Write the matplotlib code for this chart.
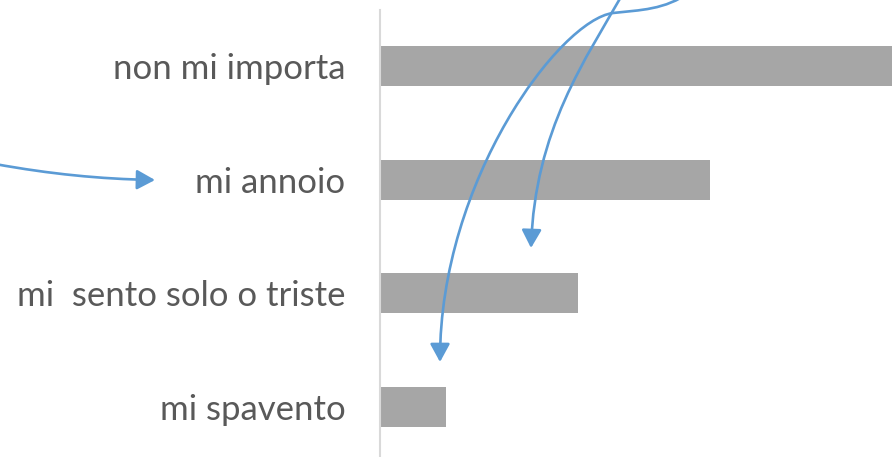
import matplotlib.pyplot as plt
from matplotlib.patches import FancyArrowPatch
from matplotlib.path import Path
from matplotlib.transforms import Affine2D

# categories top to bottom
labels = ["non mi importa", "mi annoio", "mi  sento solo o triste", "mi spavento"]
values = [8, 5, 3, 1]

W, H = 892, 457
fig = plt.figure(figsize=(W / 100, H / 100), dpi=100)
ax = fig.add_axes([380 / W, (H - 463.5) / H, 1 - 380 / W, 454 / H])

pos = list(range(len(labels)))[::-1]
ax.barh(pos, values, height=0.35, color="#A6A6A6")
ax.set_yticks(pos)
ax.set_yticklabels(labels, fontsize=25, color="#595959", family=["Lato", "DejaVu Sans"])
ax.set_ylim(-0.5, len(labels) - 0.5)
ax.set_xlim(0, 512 / 66)
ax.tick_params(axis="y", length=0, pad=25)
ax.set_xticks([])
for s in ["top", "right", "bottom"]:
    ax.spines[s].set_visible(False)
ax.spines["left"].set_color("#D9D9D9")
ax.spines["left"].set_linewidth(1.5)

# decorative curved arrows, in pixel coords of the figure (y down)
px = Affine2D().scale(1 / W, -1 / H).translate(0, 1) + fig.transFigure
curves = [
    [(-5, 164), (50, 174), (100, 179), (155, 180)],
    [(625, -10), (585, 60), (535, 130), (531, 248)],
    [(690, -8), (665, 10), (640, 10), (613, 13), (560, 20), (440, 180), (440, 362)],
]
for pts in curves:
    codes = [Path.MOVETO] + [Path.CURVE4] * (len(pts) - 1)
    arr = FancyArrowPatch(path=Path(pts, codes), transform=px,
                          arrowstyle="-|>,head_length=11,head_width=6",
                          color="#5B9BD5", lw=1.9, shrinkA=0, shrinkB=0)
    fig.add_artist(arr)

fig.savefig("out.png", dpi=100)
